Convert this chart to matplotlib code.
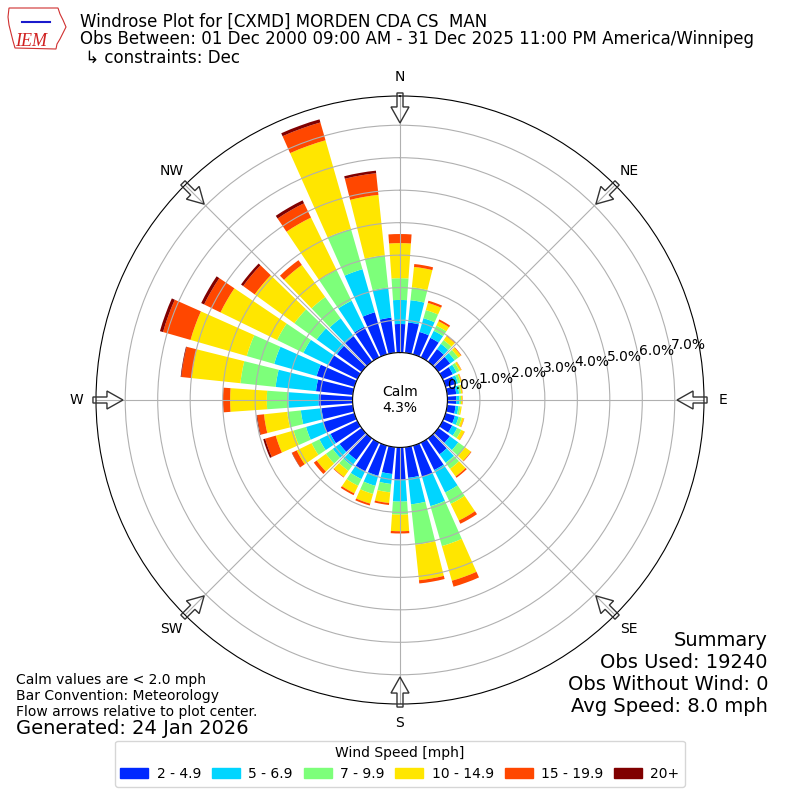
import matplotlib
matplotlib.use("Agg")
import matplotlib.pyplot as plt
import numpy as np
from matplotlib.patches import FancyArrow, Patch, Polygon

# ----------------------------
# Data: percent of obs per 10 degree direction bin, per speed bin
# ----------------------------
directions = np.arange(0, 360, 10)

speed_labels = ["2 - 4.9", "5 - 6.9", "7 - 9.9", "10 - 14.9", "15 - 19.9", "20+"]

pct_2_5 = [0.88, 0.94, 0.72, 0.67, 0.48, 0.45, 0.35, 0.30, 0.28, 0.27, 0.26, 0.30,
           0.33, 0.44, 0.61, 0.94, 1.00, 0.95, 1.00, 0.83, 0.97, 0.98, 0.82, 0.84,
           0.92, 1.00, 0.97, 1.05, 1.14, 1.21, 1.00, 0.94, 0.97, 1.05, 1.35, 1.09]
pct_5_7 = [0.74, 0.69, 0.44, 0.24, 0.20, 0.17, 0.13, 0.10, 0.09, 0.10, 0.09, 0.12,
           0.17, 0.32, 0.32, 0.77, 0.94, 0.82, 0.67, 0.31, 0.32, 0.27, 0.23, 0.26,
           0.38, 0.55, 0.64, 0.93, 1.25, 1.36, 0.85, 0.77, 0.68, 0.89, 1.38, 0.93]
pct_7_10 = [0.67, 0.40, 0.26, 0.18, 0.14, 0.14, 0.10, 0.08, 0.06, 0.05, 0.06, 0.10,
            0.14, 0.26, 0.23, 0.39, 1.28, 1.25, 0.40, 0.26, 0.26, 0.23, 0.19, 0.26,
            0.27, 0.40, 0.42, 0.66, 1.09, 0.88, 0.90, 0.85, 0.81, 1.05, 1.29, 1.00]
pct_10_15 = [1.08, 0.63, 0.23, 0.15, 0.15, 0.10, 0.06, 0.04, 0.04, 0.04, 0.04, 0.07,
             0.11, 0.22, 0.29, 0.57, 1.11, 1.10, 0.51, 0.33, 0.31, 0.26, 0.23, 0.35,
             0.51, 0.57, 0.72, 1.13, 1.51, 1.80, 1.94, 1.51, 1.22, 1.80, 2.84, 1.87]
pct_15_20 = [0.28, 0.09, 0.07, 0.06, 0.02, 0.02, 0.01, 0.01, 0.01, 0.01, 0.00, 0.01,
             0.01, 0.02, 0.05, 0.11, 0.19, 0.10, 0.07, 0.06, 0.06, 0.06, 0.02, 0.11,
             0.16, 0.34, 0.21, 0.22, 0.32, 0.88, 0.56, 0.44, 0.18, 0.49, 0.57, 0.67]
pct_20_up = [0.00, 0.00, 0.00, 0.00, 0.00, 0.00, 0.00, 0.00, 0.00, 0.00, 0.00, 0.00,
             0.00, 0.00, 0.00, 0.00, 0.00, 0.00, 0.00, 0.00, 0.00, 0.00, 0.00, 0.00,
             0.01, 0.06, 0.02, 0.00, 0.02, 0.10, 0.10, 0.08, 0.00, 0.10, 0.10, 0.08]

calm_pct = 4.3
rticks = [0, 1, 2, 3, 4, 5, 6, 7]
compass = ["N", "NE", "E", "SE", "S", "SW", "W", "NW"]

series = [pct_2_5, pct_5_7, pct_7_10, pct_10_15, pct_15_20, pct_20_up]
colors = plt.cm.jet(np.linspace(0, 1, 7)[1:])

# ----------------------------
# Figure
# ----------------------------
fig = plt.figure(figsize=(8, 8), dpi=100)
ax = fig.add_axes([0.12, 0.12, 0.76, 0.76], projection="polar")
ax.set_theta_zero_location("N")
ax.set_theta_direction(-1)
ax.set_rorigin(-1.46)
ax.set_ylim(0, 7.9)

theta = np.deg2rad(directions)
bottom = np.zeros(len(directions))
for vals, c, lab in zip(series, colors, speed_labels):
    vals = np.array(vals)
    ax.bar(theta, vals, width=np.deg2rad(8), bottom=bottom, color=c,
           label=lab, align="center", zorder=1)
    bottom += vals

ax.set_yticks(rticks)
ax.set_yticklabels([])
for v in rticks:
    ax.text(np.deg2rad(80), v, f"{v:.1f}%", ha="left", va="bottom", fontsize=10)

ax.set_xticks(np.deg2rad(np.arange(0, 360, 45)))
ax.set_xticklabels(compass, fontsize=10)

# flow arrows on the compass points
px = 1 / 608.0
for ang in np.arange(0, 360, 45):
    a = np.deg2rad(ang)
    x0 = 0.5 + 0.505 * np.sin(a)
    y0 = 0.5 + 0.505 * np.cos(a)
    dx = -30 * px * np.sin(a)
    dy = -30 * px * np.cos(a)
    ax.add_patch(FancyArrow(x0, y0, dx, dy, width=6 * px, head_width=18 * px,
                            head_length=16 * px, length_includes_head=True,
                            transform=ax.transAxes, facecolor="none",
                            edgecolor="#333333", lw=1, clip_on=False, zorder=5))

ax.text(0.5, 0.5, f"Calm\n{calm_pct:.1f}%", transform=ax.transAxes,
        ha="center", va="center", fontsize=10)

# ----------------------------
# Titles and notes
# ----------------------------
fig.text(80 / 800, 1 - 26.5 / 800, "Windrose Plot for [CXMD] MORDEN CDA CS  MAN",
         fontsize=12, va="baseline")
fig.text(80 / 800, 1 - 44.5 / 800,
         "Obs Between: 01 Dec 2000 09:00 AM - 31 Dec 2025 11:00 PM America/Winnipeg",
         fontsize=12, va="baseline")
fig.text(80 / 800, 1 - 62.5 / 800, " \u21b3 constraints: Dec", fontsize=12, va="baseline")

fig.text(16 / 800, 1 - 680 / 800, "Calm values are < 2.0 mph", fontsize=10, va="center")
fig.text(16 / 800, 1 - 696 / 800, "Bar Convention: Meteorology", fontsize=10, va="center")
fig.text(16 / 800, 1 - 712 / 800, "Flow arrows relative to plot center.", fontsize=10, va="center")
fig.text(16 / 800, 1 - 729 / 800, "Generated: 24 Jan 2026", fontsize=14, va="center")

summary = ["Summary", "Obs Used: 19240", "Obs Without Wind: 0", "Avg Speed: 8.0 mph"]
for i, s in enumerate(summary):
    fig.text(768 / 800, 1 - (640 + 22 * i) / 800, s, fontsize=14, ha="right", va="center")

# IEM logo (rough)
iowa = np.array([[9, 8], [58, 8], [60, 14], [63, 20], [66, 27], [63, 33], [60, 39],
                 [57, 44], [56, 49], [15, 48], [13, 41], [11, 33], [9, 25], [8, 17]])
fig.add_artist(Polygon(np.c_[iowa[:, 0] / 800, 1 - iowa[:, 1] / 800], closed=True,
                       fill=False, edgecolor="#d03030", lw=0.8, transform=fig.transFigure))
fig.add_artist(plt.Line2D([22 / 800, 50 / 800], [1 - 22 / 800, 1 - 22 / 800],
                          color="#1a1acc", lw=1.5, transform=fig.transFigure))
fig.text(15 / 800, 1 - 46 / 800, "IEM", fontsize=13, color="#d02020",
         family="Liberation Serif", style="italic", va="baseline")

handles = [Patch(color=c, label=l) for c, l in zip(colors, speed_labels)]
fig.legend(handles=handles, loc="lower center", bbox_to_anchor=(0.5, 0.008), ncol=6,
           title="Wind Speed [mph]", fontsize=10, title_fontsize=10,
           columnspacing=0.8, handletextpad=0.6)

fig.savefig("out.png", dpi=100)
